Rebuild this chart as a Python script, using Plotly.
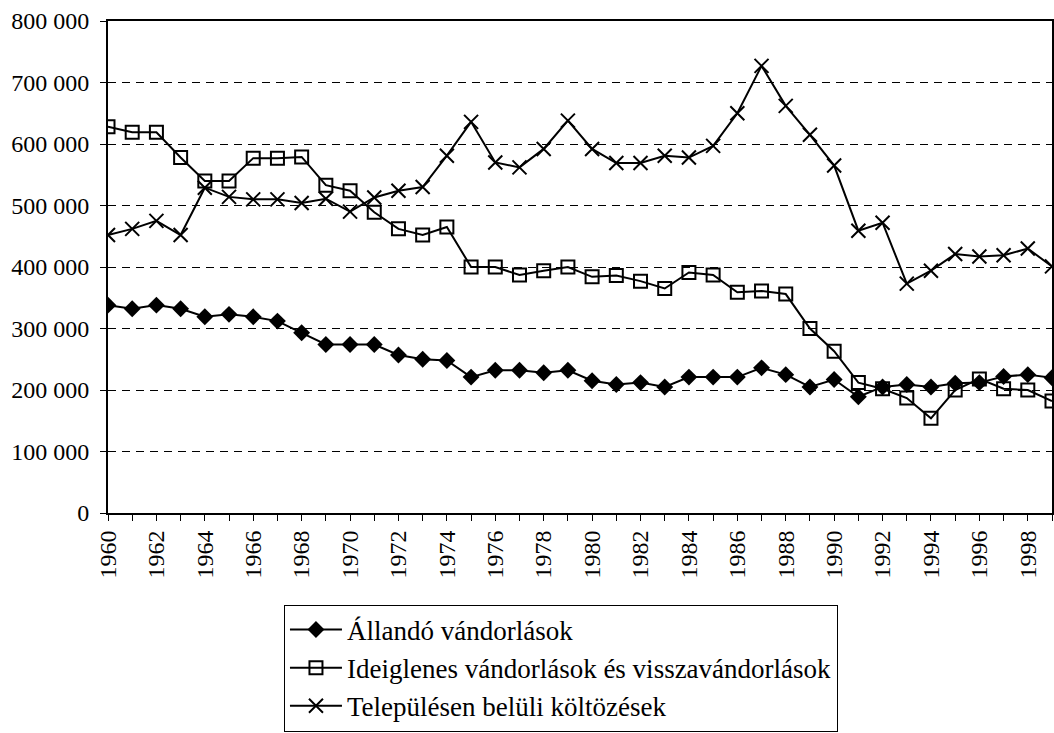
import plotly.graph_objects as go

years = list(range(1960, 2000))

allando = [338000, 332000, 338000, 332000, 319000, 323000, 319000, 312000, 293000, 274000,
           274000, 274000, 257000, 250000, 248000, 221000, 232000, 232000, 228000, 232000,
           215000, 209000, 212000, 205000, 221000, 221000, 221000, 236000, 225000, 205000,
           217000, 189000, 205000, 209000, 205000, 211000, 212000, 222000, 225000, 220000]

ideiglenes = [628000, 619000, 619000, 578000, 540000, 540000, 577000, 577000, 579000, 533000,
              524000, 489000, 462000, 452000, 465000, 400000, 400000, 387000, 394000, 400000,
              384000, 386000, 377000, 365000, 391000, 387000, 359000, 361000, 356000, 300000,
              263000, 212000, 202000, 187000, 154000, 200000, 218000, 202000, 200000, 182000]

telepules = [452000, 462000, 475000, 452000, 529000, 514000, 510000, 510000, 504000, 511000,
             490000, 513000, 524000, 530000, 581000, 636000, 570000, 562000, 592000, 638000,
             592000, 569000, 569000, 581000, 578000, 597000, 650000, 727000, 662000, 615000,
             565000, 459000, 472000, 373000, 394000, 421000, 417000, 419000, 430000, 401000]

names = ["Állandó vándorlások",
         "Ideiglenes vándorlások és visszavándorlások",
         "Településen belüli költözések"]

FONT = "'Liberation Serif', 'Times New Roman', 'DejaVu Serif', serif"

fig = go.Figure()
fig.add_trace(go.Scatter(x=years, y=allando, name=names[0], mode="lines+markers",
                         line=dict(color="black", width=2),
                         marker=dict(symbol="diamond", size=13, color="black")))
fig.add_trace(go.Scatter(x=years, y=ideiglenes, name=names[1], mode="lines+markers",
                         line=dict(color="black", width=2),
                         marker=dict(symbol="square-open", size=13, color="black",
                                     line=dict(width=2, color="black"))))
fig.add_trace(go.Scatter(x=years, y=telepules, name=names[2], mode="lines+markers",
                         line=dict(color="black", width=2),
                         marker=dict(symbol="x-thin-open", size=14, color="black",
                                     line=dict(width=2, color="black"))))

fig.update_layout(
    width=1054, height=733,
    margin=dict(l=108, r=2, t=21, b=218),
    paper_bgcolor="white", plot_bgcolor="white",
    separators=", ",
    font=dict(family=FONT, size=24, color="black"),
    showlegend=True,
    legend=dict(x=0.1864, y=-0.186, xanchor="left", yanchor="top",
                bordercolor="black", borderwidth=1, bgcolor="white",
                font=dict(family=FONT, size=27, color="black"),
                tracegroupgap=0, itemwidth=52),
)

fig.update_xaxes(
    range=[1960, 1999], tickmode="linear", tick0=1960, dtick=2,
    tickangle=-90, ticks="outside", ticklen=6, tickcolor="black",
    showline=True, linecolor="black", linewidth=2, mirror=True,
    showgrid=False, zeroline=False, automargin=False,
    minor=dict(dtick=1, ticks="outside", ticklen=6, tickcolor="black", showgrid=False),
    tickfont=dict(family=FONT, size=24, color="black"),
)
fig.update_yaxes(
    range=[0, 800000], dtick=100000, tickformat=",d",
    ticks="outside", ticklen=6, tickcolor="black",
    showline=True, linecolor="black", linewidth=2, mirror=True,
    showgrid=True, gridcolor="black", gridwidth=1, griddash="8px,6px",
    zeroline=False, automargin=False, ticklabelstandoff=6,
    tickfont=dict(family=FONT, size=24, color="black"),
)

fig.write_html(
    "out.html",
    config={"displayModeBar": False},
    post_script="document.body.style.margin='0';document.body.style.overflow='hidden';",
)
